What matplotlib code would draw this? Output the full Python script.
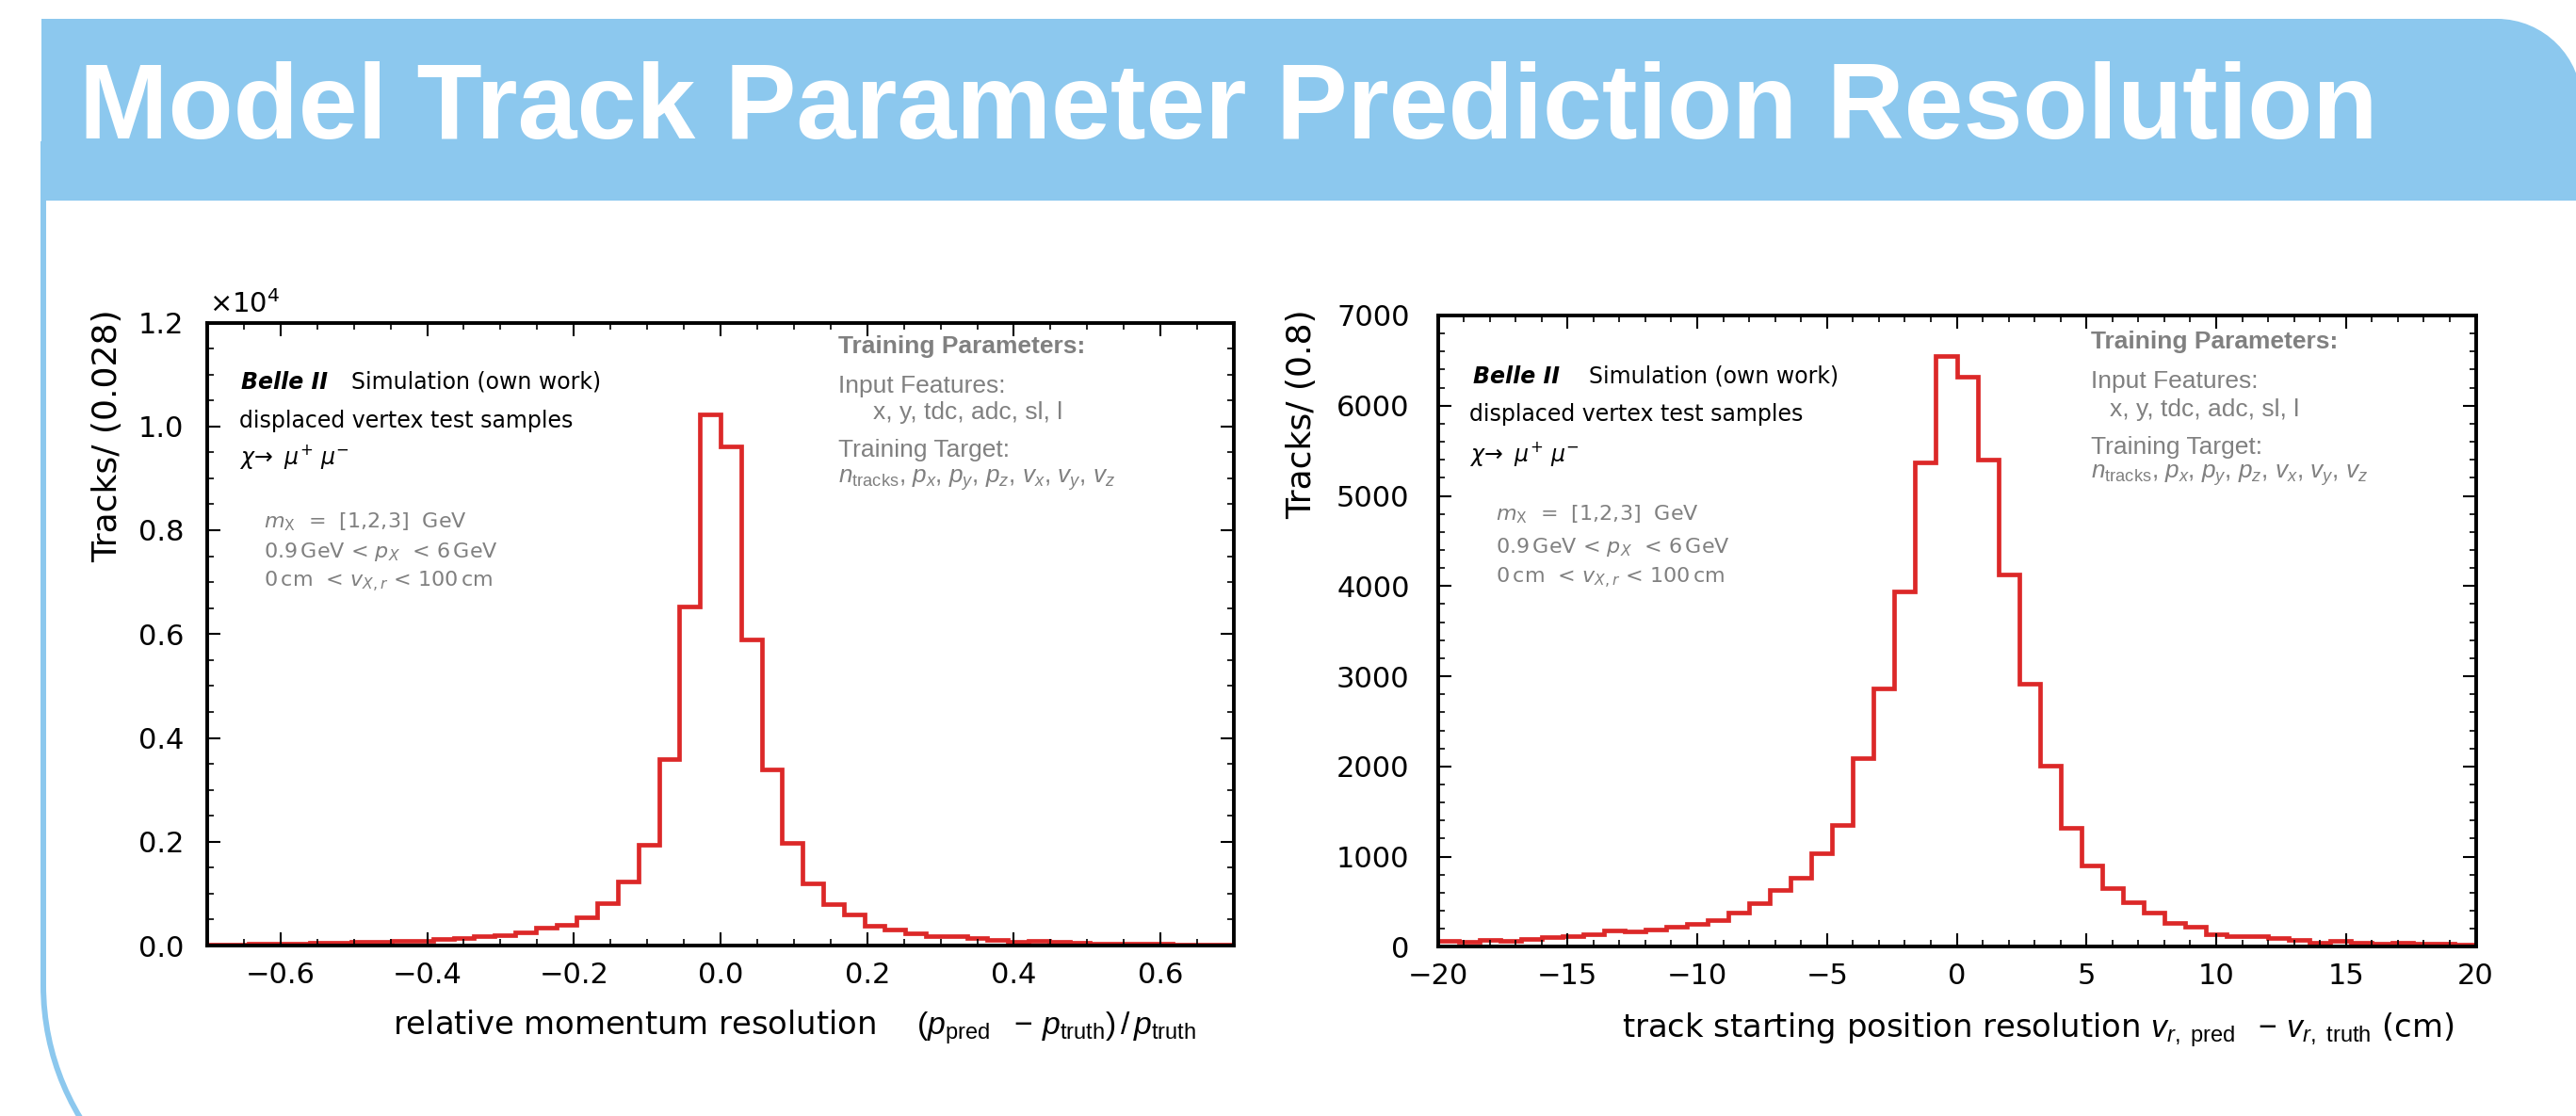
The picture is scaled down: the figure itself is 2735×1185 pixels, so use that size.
import numpy as np
import matplotlib
matplotlib.use("Agg")
import matplotlib.pyplot as plt
from matplotlib.path import Path
from matplotlib.patches import PathPatch
from matplotlib.ticker import MultipleLocator, FuncFormatter

# ---------------- data ----------------
title = "Model Track Parameter Prediction Resolution"

mom_range = (-0.7, 0.7)
mom_nbins = 50
mom_counts = [25, 25, 30, 35, 40, 60, 60, 65, 72, 90,
              90, 120, 145, 180, 205, 253, 337, 397, 542, 819,
              1240, 1938, 3595, 6534, 10227, 9619, 5903, 3393, 1980, 1204,
              795, 590, 373, 301, 241, 180, 175, 145, 114, 66,
              90, 72, 60, 42, 42, 36, 30, 24, 24, 18]

pos_range = (-20, 20)
pos_nbins = 50
pos_counts = [63, 59, 77, 70, 87, 105, 122, 143, 185, 168,
              189, 227, 255, 297, 385, 483, 626, 762, 1038, 1350,
              2089, 2867, 3939, 5375, 6555, 6322, 5399, 4126, 2914, 2005,
              1322, 899, 654, 490, 378, 269, 220, 143, 115, 115,
              98, 80, 45, 70, 42, 38, 42, 35, 31, 24]

mom_xticks = [-0.6, -0.4, -0.2, 0.0, 0.2, 0.4, 0.6]
mom_yticks = [0, 2000, 4000, 6000, 8000, 10000, 12000]
pos_xticks = [-20, -15, -10, -5, 0, 5, 10, 15, 20]
pos_yticks = [0, 1000, 2000, 3000, 4000, 5000, 6000, 7000]

mom_ylabel = "Tracks/ (0.028)"
pos_ylabel = "Tracks/ (0.8)"
mom_xlabel = (r"relative momentum resolution    "
              r"$(p_{\rm pred}\ \ -\,p_{\rm truth})\,/\,p_{\rm truth}$")
pos_xlabel = (r"track starting position resolution "
              r"$v_{r,\ {\rm pred}}\ \ -\,v_{r,\ {\rm truth}}$ (cm)")

belle = "Belle II"
sim = "Simulation (own work)"
sample = "displaced vertex test samples"
decay = r"$\chi\!\rightarrow\ \mu^{+}\ \mu^{-}$"
cuts = [r"$m_{\rm X}$  =  [1,2,3]  GeV",
        r"0.9$\,$GeV < $p_{X}$  < 6$\,$GeV",
        r"0$\,$cm  < $v_{X,r}$ < 100$\,$cm"]
train_head = "Training Parameters:"
train_lines = ["Input Features:", "x, y, tdc, adc, sl, l", "Training Target:",
               r"$n_{\rm tracks}$, $p_{x}$, $p_{y}$, $p_{z}$, $v_{x}$, $v_{y}$, $v_{z}$"]

# ---------------- style ----------------
W, H, DPI = 2735, 1185, 100
BAND = "#8CC8EE"
RED = "#DC2828"
GRAY = "#808080"

plt.rcParams['font.family'] = ['DejaVu Sans']
plt.rcParams['mathtext.fontset'] = 'custom'
plt.rcParams['mathtext.rm'] = 'Liberation Sans'
plt.rcParams['mathtext.it'] = 'Liberation Sans:italic'
plt.rcParams['mathtext.bf'] = 'Liberation Sans:bold'
plt.rcParams['mathtext.sf'] = 'Liberation Sans'

fig = plt.figure(figsize=(W / DPI, H / DPI), dpi=DPI)
fig.patch.set_facecolor("white")


def fx(p):
    return p / W


def fy(p):
    return 1 - p / H


def pts(lst):
    return [(fx(a), fy(b)) for a, b in lst]


# header band with rounded top-right corner
k = 0.5523
r = 90
x0, x1, y0, y1 = 44, 2741, 20, 213
verts = [(x0, y1), (x0, y0), (x1 - r, y0), (x1 - r + k * r, y0), (x1, y0 + r - k * r), (x1, y0 + r),
         (x1, y1), (x0, y1)]
codes = [Path.MOVETO, Path.LINETO, Path.LINETO, Path.CURVE4, Path.CURVE4, Path.CURVE4,
         Path.LINETO, Path.CLOSEPOLY]
fig.add_artist(PathPatch(Path(pts(verts), codes), transform=fig.transFigure,
                         facecolor=BAND, edgecolor="none", zorder=0))

# left frame line with rounded bottom-left corner
R = 273
xl = 46
yb = 1046
verts2 = [(xl, 150), (xl, yb), (xl, yb + k * R), (xl + R - k * R, yb + R), (xl + R, yb + R)]
codes2 = [Path.MOVETO, Path.LINETO, Path.CURVE4, Path.CURVE4, Path.CURVE4]
fig.add_artist(PathPatch(Path(pts(verts2), codes2), transform=fig.transFigure,
                         facecolor="none", edgecolor=BAND, lw=4.3, zorder=0))

fig.text(fx(84), fy(147), title, color="white", fontsize=81.5, fontweight="bold",
         family="Liberation Sans", ha="left", va="baseline")

# ---------------- axes ----------------
axL = fig.add_axes([fx(220), fy(1004), (1310 - 220) / W, (1004 - 342.5) / H])
axR = fig.add_axes([fx(1526.5), fy(1005.4), (2628.5 - 1526.5) / W, (1005.4 - 335) / H])


def style(ax, xmin, ymin, ypad):
    for s in ax.spines.values():
        s.set_linewidth(2.8)
        s.set_color("black")
    ax.xaxis.set_minor_locator(MultipleLocator(xmin))
    ax.yaxis.set_minor_locator(MultipleLocator(ymin))
    ax.tick_params(which="both", direction="in", top=True, right=True, colors="black")
    ax.tick_params(which="major", length=10, width=1.5, labelsize=22)
    ax.tick_params(which="minor", length=5, width=1.2)
    ax.tick_params(axis="x", which="major", pad=12)
    ax.tick_params(axis="y", which="major", pad=ypad)


mom_edges = np.linspace(mom_range[0], mom_range[1], mom_nbins + 1)
axL.stairs(mom_counts, mom_edges, baseline=None, color=RED, lw=3.4)
axL.set_xlim(*mom_range)
axL.set_ylim(0, 12000)
axL.set_xticks(mom_xticks)
axL.set_yticks(mom_yticks)
axL.xaxis.set_major_formatter(FuncFormatter(lambda v, p: f"{v:.1f}".replace("-", "\u2212")))
axL.yaxis.set_major_formatter(FuncFormatter(lambda v, p: f"{v / 1e4:.1f}"))
style(axL, 0.05, 500, 18)

pos_edges = np.linspace(pos_range[0], pos_range[1], pos_nbins + 1)
axR.stairs(pos_counts, pos_edges, baseline=None, color=RED, lw=3.4)
axR.set_xlim(*pos_range)
axR.set_ylim(0, 7000)
axR.set_xticks(pos_xticks)
axR.set_yticks(pos_yticks)
axR.xaxis.set_major_formatter(FuncFormatter(lambda v, p: f"{v:.0f}".replace("-", "\u2212")))
axR.yaxis.set_major_formatter(FuncFormatter(lambda v, p: f"{v:.0f}"))
style(axR, 1, 200, 21.5)

# axis labels
fig.text(fx(114), fy(328), mom_ylabel, rotation=90, ha="center", va="top", fontsize=26)
fig.text(fx(1382), fy(328), pos_ylabel, rotation=90, ha="center", va="top", fontsize=26)
fig.text(fx(222), fy(332), r"$\times$10$^{4}$", ha="left", va="baseline", fontsize=21,
         math_fontfamily="dejavusans")
fig.text(fx(417), fy(1099), mom_xlabel, ha="left", va="baseline", fontsize=24.3)
fig.text(fx(1722), fy(1102), pos_xlabel, ha="left", va="baseline", fontsize=24.3)


def annotate(bx, by, sx, dx, dy, cy, mx, my, tx, ty, ix):
    fig.text(fx(bx), fy(by), belle, fontsize=17, fontweight="bold", fontstyle="italic",
             ha="left", va="baseline")
    fig.text(fx(sx), fy(by), sim, fontsize=17, ha="left", va="baseline")
    fig.text(fx(dx), fy(dy), sample, fontsize=17, ha="left", va="baseline")
    fig.text(fx(dx), fy(cy), decay, fontsize=17, ha="left", va="baseline",
             math_fontfamily="dejavusans")
    for line, yy in zip(cuts, my):
        fig.text(fx(mx), fy(yy), line, fontsize=16, color=GRAY, ha="left", va="baseline",
                 math_fontfamily="dejavusans")
    fig.text(fx(tx), fy(ty[0]), train_head, fontsize=19, fontweight="bold", color=GRAY,
             family="Liberation Sans", ha="left", va="baseline")
    fig.text(fx(tx), fy(ty[1]), train_lines[0], fontsize=19, color=GRAY,
             family="Liberation Sans", ha="left", va="baseline")
    fig.text(fx(ix), fy(ty[2]), train_lines[1], fontsize=19, color=GRAY,
             family="Liberation Sans", ha="left", va="baseline")
    fig.text(fx(tx), fy(ty[3]), train_lines[2], fontsize=19, color=GRAY,
             family="Liberation Sans", ha="left", va="baseline")
    fig.text(fx(tx), fy(ty[4]), train_lines[3], fontsize=18.8, color=GRAY,
             family="Liberation Sans", ha="left", va="baseline")


annotate(256, 413, 373, 254, 454, 493, 280, [560, 592, 623], 890, [375, 417, 445, 485, 513], 927)
annotate(1564, 407, 1687, 1560, 447, 490, 1588, [552, 587, 619], 2220, [370, 412, 442, 482, 508], 2240)

fig.savefig("out.png", dpi=DPI, facecolor="white")
